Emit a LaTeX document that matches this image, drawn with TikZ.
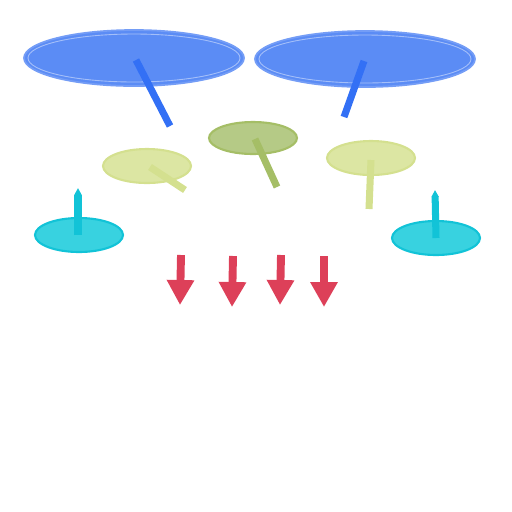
\documentclass[tikz,border=0pt]{standalone}
\usepackage{xcolor}
\definecolor{Sky Blue}{HTML}{5B8CF5}
\definecolor{Deep Blue}{HTML}{3370F5}
\definecolor{Moss}{HTML}{B5CA86}
\definecolor{Moss Dark}{HTML}{A5BE66}
\definecolor{Lime}{HTML}{DCE6A3}
\definecolor{Lime Dark}{HTML}{D4E08F}
\definecolor{Aqua}{HTML}{38D2E0}
\definecolor{Aqua Dark}{HTML}{12C3D7}
\definecolor{Rose}{HTML}{DD4059}
\usepackage{tikz}
\usetikzlibrary{arrows.meta, shapes.geometric}
\tikzset{
	big disc/.style={
		ellipse,
		fill=Sky Blue,
		draw=Sky Blue!85!white,
		line width=1pt,
		minimum width=4.4cm,
		minimum height=1.12cm,
		inner sep=0pt
	},
	disc/.style={
		ellipse,
		line width=1.2pt,
		minimum width=1.76cm,
		minimum height=0.68cm,
		inner sep=0pt
	},
	stem/.style={
		line width=4pt
	},
	drop/.style={
		draw=Rose,
		line width=4.5pt,
		-{Triangle[width=0.52cm, length=0.5cm]}
	}
}

\begin{document}
\begin{tikzpicture}[x=0.02cm, y=-0.02cm]
		\useasboundingbox (0,0) rectangle (512,512);

		% upper layer
		\node[big disc] (b0) at (134,58) {};
		\node[big disc] (b1) at (365,59) {};
		\draw[white, opacity=.45, line width=.5pt] (b0) ellipse [x radius=106, y radius=24];
		\draw[white, opacity=.45, line width=.5pt] (b1) ellipse [x radius=106, y radius=24];

		% middle layer
		\node[disc, fill=Moss, draw=Moss Dark, minimum height=.64cm] (m0) at (253,138) {};
		\node[disc, fill=Lime, draw=Lime Dark] (l0) at (147,166) {};
		\node[disc, fill=Lime, draw=Lime Dark] (l1) at (371,158) {};

		% lower layer
		\node[disc, fill=Aqua, draw=Aqua Dark] (c0) at (79,235) {};
		\node[disc, fill=Aqua, draw=Aqua Dark] (c1) at (436,238) {};

		\coordinate (tb0) at (170,126);
		\coordinate (tb1) at (344,117);
		\coordinate (tm0) at (277,187);
		\coordinate (tl0) at (185,190);
		\coordinate (tl1) at (369,209);
		\coordinate (tc0) at (78,188);
		\coordinate (tc1) at (435,190);

		\draw[stem, draw=Deep Blue] (136,60) to (tb0);
		\draw[stem, draw=Deep Blue] (364,61) to (tb1);
		\draw[stem, draw=Moss Dark] (255,139) to (tm0);
		\draw[stem, draw=Lime Dark] (150,167) to (tl0);
		\draw[stem, draw=Lime Dark] (371,160) to (tl1);
		\draw[stem, draw=Aqua Dark, -{Triangle[width=4pt, length=4pt]}] (78,235) to (tc0);
		\draw[stem, draw=Aqua Dark, -{Triangle[width=4pt, length=4pt]}] (436,238) to (tc1);

		% flow
		\coordinate (d0) at (181,255);
		\coordinate (d1) at (233,256);
		\coordinate (d2) at (281,255);
		\coordinate (d3) at (324,256);
		\coordinate (e0) at (180,305);
		\coordinate (e1) at (232,307);
		\coordinate (e2) at (280,305);
		\coordinate (e3) at (324,307);
		\foreach \i in {0,...,3}
			\draw[drop] (d\i) to (e\i);
	\end{tikzpicture}
\end{document}
